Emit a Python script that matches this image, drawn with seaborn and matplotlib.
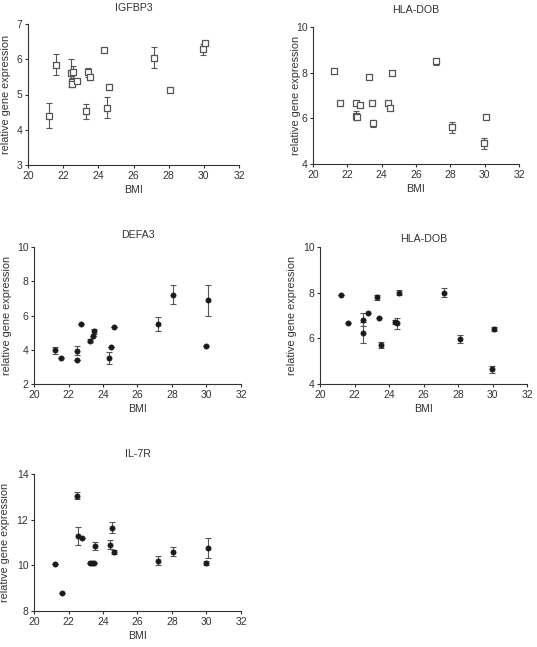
import numpy as np
import pandas as pd
import matplotlib
matplotlib.use("Agg")
import matplotlib.pyplot as plt
import seaborn as sns

# IGFBP3 (open squares)
igf_bmi = [21.21, 21.61, 22.46, 22.55, 22.5, 22.53, 22.78, 23.29, 23.44, 23.53, 24.35, 24.48, 24.61, 27.16, 28.09, 29.96, 30.08]
igf_val = [4.40, 5.85, 5.60, 5.65, 5.36, 5.30, 5.39, 4.52, 5.63, 5.50, 6.26, 4.63, 5.21, 6.04, 5.14, 6.28, 6.45]
igf_err = [0.35, 0.30, 0.40, 0.17, 0.12, 0.08, 0.0, 0.21, 0.13, 0.08, 0.04, 0.30, 0.08, 0.30, 0.0, 0.16, 0.0]

# HLA-DOB (open squares)
hla1_bmi = [21.2, 21.59, 22.48, 22.52, 22.57, 22.75, 23.29, 23.46, 23.52, 24.34, 24.47, 24.6, 27.16, 28.07, 29.95, 30.08]
hla1_val = [8.08, 6.69, 6.65, 6.11, 6.04, 6.60, 7.80, 6.65, 5.78, 6.69, 6.46, 8.00, 8.50, 5.60, 4.90, 6.08]
hla1_err = [0.10, 0.0, 0.0, 0.20, 0.08, 0.0, 0.0, 0.0, 0.15, 0.0, 0.10, 0.0, 0.15, 0.25, 0.25, 0.0]

# DEFA3 (filled circles)
defa_bmi = [21.22, 21.59, 22.48, 22.52, 22.75, 23.27, 23.43, 23.5, 24.35, 24.47, 24.62, 27.18, 28.05, 29.95, 30.06]
defa_val = [3.98, 3.50, 3.40, 3.94, 5.48, 4.54, 4.80, 5.09, 3.53, 4.15, 5.34, 5.50, 7.22, 4.23, 6.89]
defa_err = [0.20, 0.0, 0.0, 0.27, 0.0, 0.10, 0.0, 0.15, 0.35, 0.0, 0.0, 0.40, 0.55, 0.0, 0.90]

# HLA-DOB (filled circles)
hla2_bmi = [21.2, 21.61, 22.48, 22.52, 22.77, 23.29, 23.44, 23.52, 24.37, 24.49, 24.6, 27.16, 28.09, 29.97, 30.08]
hla2_val = [7.91, 6.69, 6.25, 6.81, 7.10, 7.80, 6.91, 5.71, 6.71, 6.65, 8.00, 8.00, 5.98, 4.64, 6.41]
hla2_err = [0.0, 0.0, 0.45, 0.28, 0.0, 0.10, 0.0, 0.12, 0.10, 0.24, 0.10, 0.20, 0.18, 0.15, 0.10]

# IL-7R (filled circles)
il7_bmi = [21.22, 21.61, 22.5, 22.54, 22.77, 23.27, 23.39, 23.5, 23.52, 24.4, 24.51, 24.62, 27.19, 28.07, 29.96, 30.08]
il7_val = [10.04, 8.80, 13.05, 11.30, 11.20, 10.10, 10.10, 10.10, 10.86, 10.90, 11.65, 10.58, 10.20, 10.60, 10.09, 10.75]
il7_err = [0.0, 0.0, 0.15, 0.40, 0.0, 0.0, 0.0, 0.0, 0.18, 0.20, 0.23, 0.10, 0.20, 0.20, 0.08, 0.45]

W, H = 537, 647

sns.set_style("ticks")
plt.rcParams['font.family'] = ['Liberation Sans', 'DejaVu Sans']
plt.rcParams['axes.edgecolor'] = '#333333'
plt.rcParams['xtick.color'] = '#333333'
plt.rcParams['ytick.color'] = '#333333'

fig = plt.figure(figsize=(W / 100, H / 100), dpi=100)

panels = [
    # title, x, y, err, filled, (left, right, top, bottom), ylim, yticks, title_y, ylab_x
    ("IGFBP3", igf_bmi, igf_val, igf_err, False, (28, 239, 24, 165), (3, 7), [3, 4, 5, 6, 7], 8, -0.082),
    ("HLA-DOB", hla1_bmi, hla1_val, hla1_err, False, (313, 519, 27, 164), (4, 10), [4, 6, 8, 10], 10, -0.06),
    ("DEFA3", defa_bmi, defa_val, defa_err, True, (34, 241, 247, 384), (2, 10), [2, 4, 6, 8, 10], 235, -0.106),
    ("HLA-DOB", hla2_bmi, hla2_val, hla2_err, True, (320, 527, 247, 384), (4, 10), [4, 6, 8, 10], 239, -0.111),
    ("IL-7R", il7_bmi, il7_val, il7_err, True, (34, 241, 474, 611), (8, 14), [8, 10, 12, 14], 454, -0.115),
]

for title, xs, ys, es, filled, (l, r, t, b), ylim, yticks, ty, ylx in panels:
    ax = fig.add_axes([l / W, 1 - b / H, (r - l) / W, (b - t) / H])
    df = pd.DataFrame({"BMI": xs, "expr": ys, "err": es})
    ax.errorbar(df["BMI"], df["expr"], yerr=df["err"], fmt="none",
                ecolor="#555555", elinewidth=0.8, capsize=2, capthick=0.8, zorder=1)
    if filled:
        sns.scatterplot(data=df, x="BMI", y="expr", ax=ax, marker="o", s=14,
                        color="#1a1a1a", edgecolor="#1a1a1a", linewidth=0.5, zorder=2)
    else:
        sns.scatterplot(data=df, x="BMI", y="expr", ax=ax, marker="s", s=16,
                        facecolor="white", edgecolor="#555555", linewidth=0.9, zorder=2)
    ax.set_xlim(20, 32)
    ax.set_xticks([20, 22, 24, 26, 28, 30, 32])
    ax.set_ylim(*ylim)
    ax.set_yticks(yticks)
    ax.tick_params(labelsize=7.5, length=2.5, width=0.8, pad=1.5)
    ax.set_xlabel("BMI", fontsize=7.7, labelpad=3, color="#333333")
    ax.set_ylabel("relative gene expression", fontsize=7.8, color="#333333")
    ax.yaxis.set_label_coords(ylx, 0.5)
    for sp in ["left", "bottom"]:
        ax.spines[sp].set_linewidth(0.8)
    sns.despine(ax=ax)
    fig.text(((l + r) / 2) / W, 1 - ty / H, title, ha="center", va="center",
             fontsize=7.7, color="#333333")

fig.savefig("out.png", dpi=100)
